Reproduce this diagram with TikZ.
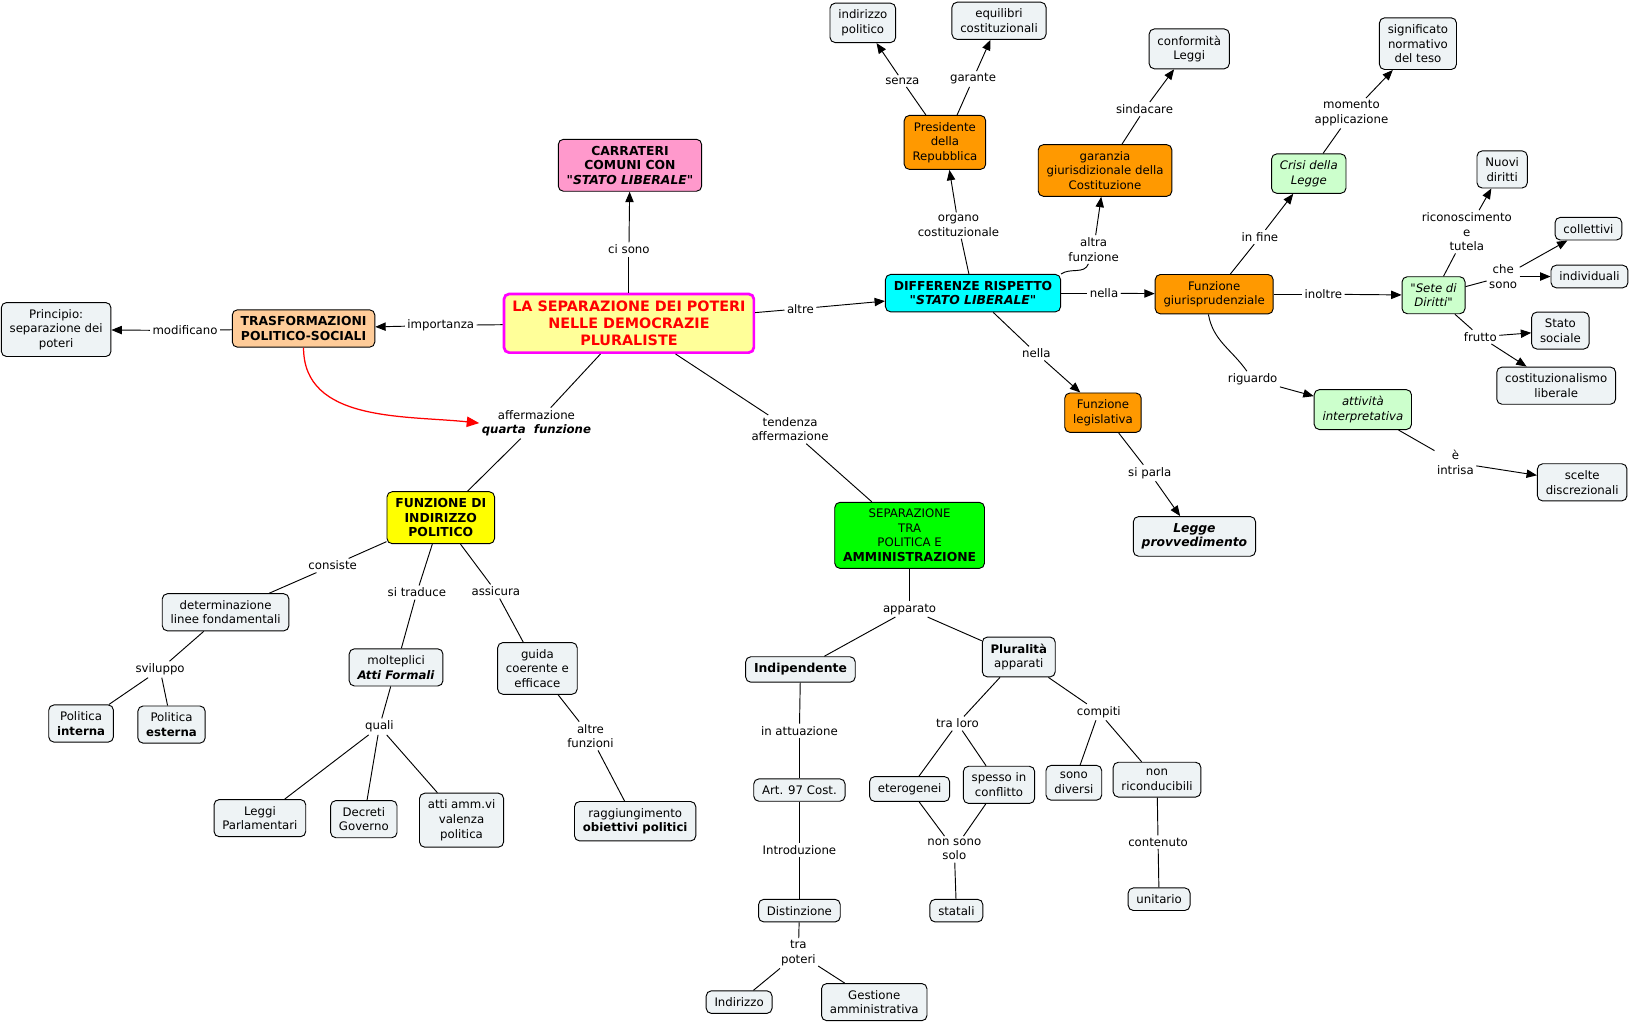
\documentclass[tikz,border=0pt]{standalone}
\usepackage{fontspec}
\setmainfont{DejaVu Sans}
\usetikzlibrary{arrows.meta}
\definecolor{paleblue}{HTML}{EEF3F5}
\definecolor{cmpink}{HTML}{FF99CC}
\definecolor{cmlemon}{HTML}{FFFF99}
\definecolor{cmpeach}{HTML}{FFCC99}
\definecolor{cmcyan}{HTML}{00FFFF}
\definecolor{cmorange}{HTML}{FF9900}
\definecolor{palegreen}{HTML}{CCFFCC}
\definecolor{cmyellow}{HTML}{FFFF00}
\definecolor{cmgreen}{HTML}{00FF00}
\definecolor{cmmagenta}{HTML}{FF00FF}
\newcommand{\mapfont}{\fontsize{11.3}{14}\selectfont}
\newcommand{\boldmapfont}{\fontsize{11.9}{14}\selectfont\bfseries}
\newcommand{\qq}{\textquotedbl}
\tikzset{%
  >={Triangle[width=8pt,length=10pt]},
  % Specifications for style of nodes:
         base/.style = {rectangle, rounded corners=5pt, draw=black,
                        line width=0.9pt, align=center,
                        inner xsep=8pt, inner ysep=6.5pt, font=\mapfont},
      concept/.style = {base, fill=paleblue},
    orangebox/.style = {base, fill=cmorange},
     greenbox/.style = {base, fill=palegreen},
      boldbox/.style = {base, font=\boldmapfont},
     linkword/.style = {align=center, inner sep=2pt, font=\mapfont},
}

\begin{document}
\begin{tikzpicture}[x=1pt, y=-1pt, line width=0.9pt]
  \useasboundingbox (0,0) rectangle (1568,987);
  % Specification of nodes (position, etc.)
  \node (main) [base, fill=cmlemon, draw=cmmagenta, line width=2.6pt,
      font=\fontsize{13.8}{16.5}\selectfont\bfseries, text=red]
      at (605,311) {LA SEPARAZIONE DEI POTERI\\NELLE DEMOCRAZIE\\PLURALISTE};
  \node (carr) [boldbox, fill=cmpink] at (606,159)
      {CARRATERI\\COMUNI CON\\\textit{\qq STATO LIBERALE\qq}};
  \node (trasf) [boldbox, fill=cmpeach] at (292,316)
      {TRASFORMAZIONI\\POLITICO-SOCIALI};
  \node (princ) [concept] at (54,317) {Principio:\\separazione dei\\poteri};
  \node (diff) [boldbox, fill=cmcyan] at (936,282)
      {DIFFERENZE RISPETTO\\\textit{\qq STATO LIBERALE\qq}};
  \node (pres) [orangebox] at (909,137) {Presidente\\della\\Repubblica};
  \node (indpol) [concept] at (830,22) {indirizzo\\politico};
  \node (equil) [concept] at (961,20) {equilibri\\costituzionali};
  \node (garanzia) [orangebox] at (1063,164)
      {garanzia\\giurisdizionale della\\Costituzione};
  \node (conf) [concept] at (1144,47) {conformità\\Leggi};
  \node (funzgiur) [orangebox] at (1168,283) {Funzione\\giurisprudenziale};
  \node (crisi) [greenbox, font=\mapfont\itshape] at (1259,167) {Crisi della\\Legge};
  \node (signif) [concept] at (1364,42) {significato\\normativo\\del teso};
  \node (sete) [greenbox, font=\mapfont\itshape] at (1379,284) {\qq Sete di\\Diritti\qq};
  \node (nuovi) [concept] at (1445,163) {Nuovi\\diritti};
  \node (collet) [concept] at (1528,220) {collettivi};
  \node (indiv) [concept] at (1529,266) {individuali};
  \node (statosoc) [concept] at (1501,318) {Stato\\sociale};
  \node (costlib) [concept] at (1497,371) {costituzionalismo\\liberale};
  \node (attiv) [greenbox, font=\mapfont\itshape] at (1311,394) {attività\\interpretativa};
  \node (scelte) [concept] at (1522,464) {scelte\\discrezionali};
  \node (funzleg) [orangebox] at (1061,397) {Funzione\\legislativa};
  \node (leggeprov) [concept, font=\boldmapfont\itshape] at (1149,516)
      {Legge\\provvedimento};
  \node (fip) [boldbox, fill=cmyellow] at (424,498)
      {FUNZIONE DI\\INDIRIZZO\\POLITICO};
  \node (sep) [base, fill=cmgreen] at (875,515)
      {SEPARAZIONE\\TRA\\POLITICA E\\{\boldmapfont AMMINISTRAZIONE}};
  \node (determ) [concept] at (217,589) {determinazione\\linee fondamentali};
  \node (polint) [concept] at (78,696) {Politica\\\textbf{interna}};
  \node (polest) [concept] at (165,697) {Politica\\\textbf{esterna}};
  \node (molt) [concept] at (381,642) {molteplici\\\textbf{\textit{Atti Formali}}};
  \node (guida) [concept] at (517,643) {guida\\coerente e\\efficace};
  \node (leggi) [concept] at (250,787) {Leggi\\Parlamentari};
  \node (decreti) [concept] at (350,788) {Decreti\\Governo};
  \node (attiamm) [concept] at (444,789) {atti amm.vi\\valenza\\politica};
  \node (ragg) [concept] at (611,790) {raggiungimento\\\textbf{obiettivi politici}};
  \node (indip) [concept, font=\boldmapfont] at (770,644) {Indipendente};
  \node (plur) [concept] at (980,632) {\textbf{Pluralità}\\apparati};
  \node (art97) [concept] at (769,760) {Art. 97 Cost.};
  \node (distinz) [concept] at (769,876) {Distinzione};
  \node (indirizzo) [concept] at (711,964) {Indirizzo};
  \node (gestione) [concept] at (841,964) {Gestione\\amministrativa};
  \node (eterog) [concept] at (875,759) {eterogenei};
  \node (spesso) [concept] at (961,755) {spesso in\\conflitto};
  \node (sonodiv) [concept] at (1033,753) {sono\\diversi};
  \node (nonric) [concept] at (1113,750) {non\\riconducibili};
  \node (statali) [concept] at (920,876) {statali};
  \node (unitario) [concept] at (1115,865) {unitario};
  % Linking words
  \node (modif) [linkword] at (178,318) {modificano};
  \node (impo) [linkword] at (424,313) {importanza};
  \node (cisono) [linkword] at (605,240) {ci sono};
  \node (altre) [linkword] at (770,297) {altre};
  \node (aff) [linkword] at (516,407) {affermazione\\\textbf{\textit{quarta\ \ funzione}}};
  \node (tend) [linkword] at (760,413) {tendenza\\affermazione};
  \node (organo) [linkword] at (922,217) {organo\\costituzionale};
  \node (senza) [linkword] at (868,78) {senza};
  \node (garante) [linkword] at (936,76) {garante};
  \node (altraf) [linkword] at (1052,240) {altra\\funzione};
  \node (sindac) [linkword] at (1101,105) {sindacare};
  \node (nellaA) [linkword] at (1062,282) {nella};
  \node (nellaB) [linkword] at (997,340) {nella};
  \node (siparla) [linkword] at (1106,455) {si parla};
  \node (infine) [linkword] at (1212,228) {in fine};
  \node (momento) [linkword] at (1300,109) {momento\\applicazione};
  \node (inoltre) [linkword] at (1273,283) {inoltre};
  \node (riguardo) [linkword] at (1205,365) {riguardo};
  \node (ricon) [linkword] at (1411,223) {riconoscimento\\e\\tutela};
  \node (chesono) [linkword] at (1446,266) {che\\sono};
  \node (frutto) [linkword] at (1424,324) {frutto};
  \node (intrisa) [linkword] at (1400,445) {è\\intrisa};
  \node (consiste) [linkword] at (320,544) {consiste};
  \node (sitrad) [linkword] at (401,570) {si traduce};
  \node (assicura) [linkword] at (477,569) {assicura};
  \node (svil) [linkword] at (154,644) {sviluppo};
  \node (quali) [linkword] at (365,699) {quali};
  \node (altrefz) [linkword] at (568,708) {altre\\funzioni};
  \node (appar) [linkword] at (875,586) {apparato};
  \node (inatt) [linkword] at (769,703) {in attuazione};
  \node (intro) [linkword] at (769,818) {Introduzione};
  \node (trapot) [linkword] at (768,917) {tra\\poteri};
  \node (traloro) [linkword] at (921,696) {tra loro};
  \node (compiti) [linkword] at (1057,685) {compiti};
  \node (nonsolo) [linkword] at (918,817) {non sono\\solo};
  \node (contenuto) [linkword] at (1114,810) {contenuto};
  % Specification of lines between nodes specified above
  \draw (trasf) -- (modif); \draw[->] (modif) -- (princ);
  \draw (main) -- (impo); \draw[->] (impo) -- (trasf);
  \draw (main) -- (cisono); \draw[->] (cisono) -- (carr);
  \draw (main) -- (altre); \draw[->] (altre) -- (diff);
  \draw (main) -- (aff); \draw (aff) -- (fip);
  \draw (main) -- (tend); \draw (tend) -- (sep);
  \draw[-{Triangle[width=10pt,length=12pt]}, red, line width=1.2pt]
      (trasf.south) to[out=-90, in=174] (aff.west);
  \draw (diff) -- (organo); \draw[->] (organo) -- (pres);
  \draw (pres) -- (senza); \draw[->] (senza) -- (indpol);
  \draw (pres) -- (garante); \draw[->] (garante) -- (equil);
  \draw (diff.north east) to[out=35, in=-110] (altraf); \draw[->] (altraf) -- (garanzia);
  \draw (garanzia) -- (sindac); \draw[->] (sindac) -- (conf);
  \draw (diff) -- (nellaA); \draw[->] (nellaA) -- (funzgiur);
  \draw (diff) -- (nellaB); \draw[->] (nellaB) -- (funzleg);
  \draw (funzleg) -- (siparla); \draw[->] (siparla) -- (leggeprov);
  \draw (funzgiur) -- (infine); \draw[->] (infine) -- (crisi);
  \draw (crisi) -- (momento); \draw[->] (momento) -- (signif);
  \draw (funzgiur) -- (inoltre); \draw[->] (inoltre) -- (sete);
  \draw (funzgiur.254) to[out=-80, in=125] (riguardo); \draw[->] (riguardo) -- (attiv);
  \draw (sete) -- (ricon); \draw[->] (ricon) -- (nuovi);
  \draw (sete) -- (chesono); \draw[->] (chesono) -- (collet);
  \draw[->] (chesono) -- (indiv);
  \draw (sete) -- (frutto); \draw[->] (frutto) -- (statosoc);
  \draw[->] (frutto) -- (costlib);
  \draw (attiv) -- (intrisa); \draw[->] (intrisa) -- (scelte);
  \draw (fip) -- (consiste); \draw (consiste) -- (determ);
  \draw (fip) -- (sitrad); \draw (sitrad) -- (molt);
  \draw (fip) -- (assicura); \draw (assicura) -- (guida);
  \draw (determ) -- (svil); \draw (svil) -- (polint); \draw (svil) -- (polest);
  \draw (molt) -- (quali); \draw (quali) -- (leggi);
  \draw (quali) -- (decreti); \draw (quali) -- (attiamm);
  \draw (guida) -- (altrefz); \draw (altrefz) -- (ragg);
  \draw (sep) -- (appar); \draw (appar) -- (indip); \draw (appar) -- (plur);
  \draw (indip) -- (inatt); \draw (inatt) -- (art97);
  \draw (art97) -- (intro); \draw (intro) -- (distinz);
  \draw (distinz) -- (trapot); \draw (trapot) -- (indirizzo);
  \draw (trapot) -- (gestione);
  \draw (plur) -- (traloro); \draw (traloro) -- (eterog); \draw (traloro) -- (spesso);
  \draw (plur) -- (compiti); \draw (compiti) -- (sonodiv); \draw (compiti) -- (nonric);
  \draw (eterog) -- (nonsolo); \draw (spesso) -- (nonsolo); \draw (nonsolo) -- (statali);
  \draw (nonric) -- (contenuto); \draw (contenuto) -- (unitario);
\end{tikzpicture}
\end{document}
